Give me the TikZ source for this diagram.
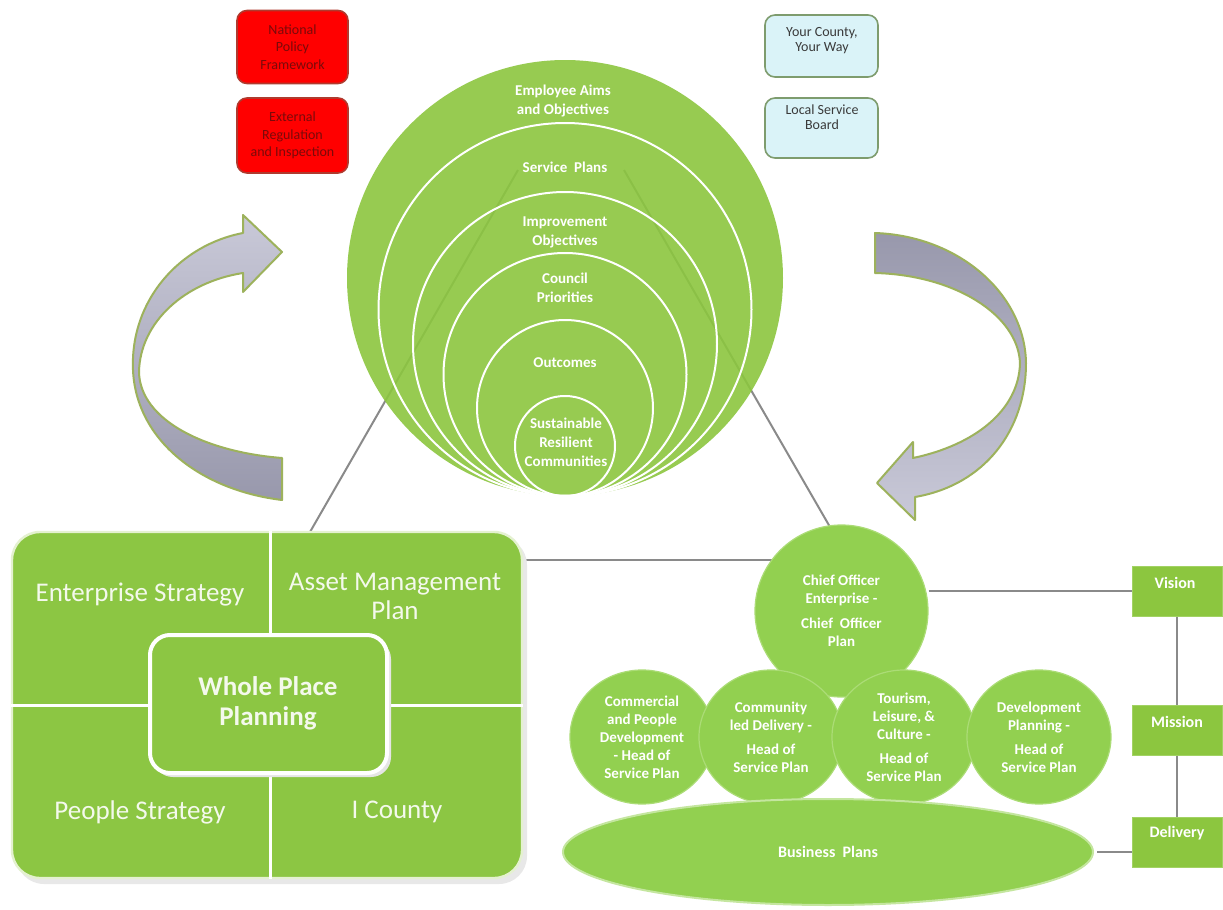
\documentclass[tikz,border=0pt]{standalone}
\usepackage{fontspec}
\setmainfont{Carlito}
\usetikzlibrary{shapes.geometric}
\definecolor{leaf}{HTML}{8CC63F}
\definecolor{leafedge}{HTML}{A2D264}
\definecolor{ballgreen}{HTML}{92D050}
\definecolor{balledge}{HTML}{ABDC76}
\definecolor{rectgreen}{HTML}{8CC643}
\definecolor{rectedge}{HTML}{E4F1D0}
\definecolor{linegray}{HTML}{8A8A8A}
\definecolor{boxred}{HTML}{FF0000}
\definecolor{boxredline}{HTML}{B03A2E}
\definecolor{redtext}{HTML}{7A0A0A}
\definecolor{boxblue}{HTML}{DAF3F8}
\definecolor{boxblueline}{HTML}{7E9C6E}
\definecolor{darktext}{HTML}{3A3A3A}
\definecolor{qwhite}{HTML}{F4F9EC}
\definecolor{arrowedge}{HTML}{9DB25C}
\definecolor{arrowlight}{HTML}{C9C9D8}
\definecolor{arrowdark}{HTML}{9898AC}
\begin{document}
\begin{tikzpicture}[x=0.5pt,y=-0.5pt,
  gline/.style={draw=linegray, line width=1pt},
  ring/.style={circle, draw=white, line width=1pt, inner sep=0pt},
  ctext/.style={text=white, font=\fontsize{7.5}{9.5}\selectfont\bfseries, align=center, inner sep=0pt},
  redbox/.style={rectangle, rounded corners=5pt, fill=boxred, draw=boxredline, line width=0.8pt, minimum width=55.5pt, inner sep=0pt,
     text=redtext, font=\fontsize{7}{8.75}\selectfont, align=center},
  bluebox/.style={rectangle, rounded corners=5pt, fill=boxblue, draw=boxblueline, line width=0.8pt, minimum width=56.5pt, inner sep=0pt},
  btext/.style={text=darktext, font=\fontsize{7}{7.5}\selectfont, align=center, inner sep=0pt},
  outerrect/.style={rectangle, rounded corners=14pt, fill=rectgreen, draw=rectedge, line width=1.2pt, inner sep=0pt},
  innerrect/.style={rectangle, rounded corners=10pt, fill=rectgreen, draw=white, line width=2pt, inner sep=0pt},
  divider/.style={draw=white, line width=1.5pt},
  qtext/.style={text=qwhite, font=\fontsize{13.5}{14.5}\selectfont, align=center, inner sep=0pt},
  wtext/.style={text=qwhite, font=\fontsize{13.5}{15}\selectfont\bfseries, align=center, inner sep=0pt},
  ball/.style={ellipse, fill=ballgreen, draw=balledge, line width=0.6pt, inner sep=0pt,
     minimum width=72pt, minimum height=67pt, text=white, font=\fontsize{7.5}{9}\selectfont\bfseries, align=center},
  vbox/.style={rectangle, fill=leaf, draw=leafedge, line width=0.5pt, minimum width=45pt, minimum height=25pt, inner sep=0pt},
  vtext/.style={text=white, font=\fontsize{8}{9}\selectfont\bfseries, inner sep=0pt},
  arrowbody/.style={draw=arrowedge, line width=1pt, line join=round}
]
\useasboundingbox (0,0) rectangle (1223,910);
\fill[white] (0,0) rectangle (1223,910);

% connector end points
\coordinate (lb) at (310,532);
\coordinate (lt) at (518,170);
\coordinate (rt) at (624,170);
\coordinate (rb) at (830,527);
\coordinate (hl) at (522,560);
\coordinate (hr) at (773,560);

% boxes for the right column (drawn early, connectors later)
\node[vbox] (vision) at (1177,591) {};
\node[vbox] (mission) at (1177,730) {};
\node[vbox] (delivery) at (1177,842) {};

% gray connectors (behind shapes)
\draw[gline] (lb) -- (lt);
\draw[gline] (rt) -- (rb);
\draw[gline] (hl) -- (hr);
\draw[gline] (vision.south) -- (mission.north);
\draw[gline] (mission.south) -- (delivery.north);

% curved arrows
\shadedraw[top color=arrowlight, bottom color=arrowdark, arrowbody]
  (282,500) .. controls (200,490) and (136,440) .. (133,370)
  .. controls (130,300) and (180,245) .. (243,233)
  -- (243,215) -- (282,252) -- (243,292) -- (243,273)
  .. controls (185,282) and (140,322) .. (139,372)
  .. controls (140,420) and (205,452) .. (282,458) -- cycle;
\shadedraw[top color=arrowdark, bottom color=arrowlight, arrowbody]
  (875,233) .. controls (960,236) and (1025,295) .. (1026,363)
  .. controls (1026,430) and (985,485) .. (915,497)
  -- (915,520) -- (877,483) -- (913,442) -- (913,458)
  .. controls (975,445) and (1019,410) .. (1020,363)
  .. controls (1018,315) and (955,275) .. (875,273) -- cycle;

% top boxes
\node[redbox, minimum height=36.5pt] (npf) at (292.5,47) {National\\Policy\\Framework};
\node[redbox, minimum height=37.5pt] (eri) at (292.5,135.5) {External\\Regulation\\and Inspection};
\node[bluebox, minimum height=31pt] (ycw) at (821.5,46) {};
\node[btext] (ycwt) at (822,40.5) {Your County,\\Your Way};
\node[bluebox, minimum height=30pt] (lsb) at (821.5,128) {};
\node[btext] (lsbt) at (822,117.5) {Local Service\\Board};

% nested circles
\node[circle, fill=leaf, fill opacity=0.9, minimum size=218pt, inner sep=0pt] (c1) at (565,278) {};
\node[ring, minimum size=186.5pt] (c2) at (565,309.5) {};
\node[ring, minimum size=152pt] (c3) at (565,344) {};
\node[ring, minimum size=121.5pt] (c4) at (565,374.5) {};
\node[ring, minimum size=88pt] (c5) at (565,408) {};
\node[ring, minimum size=50pt] (c6) at (565,446) {};
\node[ctext] (temp) at (563,101) {Employee Aims\\and Objectives};
\node[ctext] (tsvc) at (565,167) {Service\ \ Plans};
\node[ctext] (timp) at (565,232.5) {Improvement\\Objectives};
\node[ctext] (tcou) at (565,287.5) {Council\\Priorities};
\node[ctext] (tout) at (565,363) {Outcomes};
\node[ctext] (tsus) at (566,442) {Sustainable\\Resilient\\Communities};

% whole place planning block
\fill[black!9, rounded corners=14pt] (16,537) rectangle (527,884);
\node[outerrect, minimum width=255pt, minimum height=173pt] (wpp) at (267,705) {};
\draw[divider] (wpp.north -| 270,0) -- (wpp.south -| 270,0);
\draw[divider] (wpp.west) -- (wpp.east);
\node[qtext] (es) at (140,595) {Enterprise Strategy};
\node[qtext] (am) at (395,596) {Asset Management\\Plan};
\node[qtext] (ps) at (140,812) {People Strategy};
\node[qtext] (ic) at (397,812) {I County};
\fill[black!10, rounded corners=10pt] (153,639) rectangle (391,777);
\node[innerrect, minimum width=118.5pt, minimum height=69pt] (wpc) at (268.5,704) {};
\node[wtext] (wpct) at (268,703) {Whole Place\\Planning};

% service plan cluster
\node[ball, minimum width=86.5pt, minimum height=86pt] (chief) at (841.5,611)
  {Chief Officer\\Enterprise -\\[3.5pt]Chief\ \ Officer\\Plan};
\draw[gline] (chief.east |- vision.west) -- (vision.west);
\node[ball] (cpd) at (642,737) {Commercial\\and People\\Development\\- Head of\\Service Plan};
\node[ball] (cld) at (771,737) {Community\\led Delivery -\\[3pt]Head of\\Service Plan};
\node[ball] (tlc) at (904,737) {Tourism,\\Leisure, \&\\Culture -\\[3pt]Head of\\Service Plan};
\node[ball] (dev) at (1039,737) {Development\\Planning -\\[3pt]Head of\\Service Plan};
\node[ellipse, fill=ballgreen, draw=balledge!70!white, line width=1pt, inner sep=0pt,
  minimum width=265pt, minimum height=53pt, text=white,
  font=\fontsize{8}{9}\selectfont\bfseries] (business) at (828,852) {Business\ \ Plans};
\draw[gline, shorten <=1.5pt] (business.east) -- (business.east -| delivery.west);

% column labels
\node[vtext] (visiont) at (1175,583) {Vision};
\node[vtext] (missiont) at (1177,722) {Mission};
\node[vtext] (deliveryt) at (1177,833) {Delivery};
\end{tikzpicture}
\end{document}
